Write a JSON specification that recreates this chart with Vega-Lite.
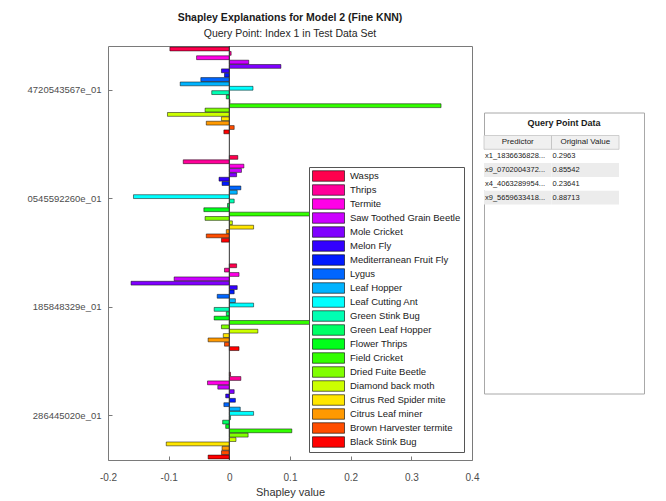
{
  "$schema": "https://vega.github.io/schema/vega-lite/v6.json",
  "padding": {"left": 26, "top": 12, "right": 5, "bottom": 5},
  "background": "white",
  "config": {"font": "Liberation Sans", "view": {"stroke": null}},
  "spacing": 12,
  "bounds": "flush",
  "center": true,
  "resolve": {"scale": {"color": "independent", "fill": "independent", "x": "independent", "y": "independent"}, "legend": {"color": "independent", "fill": "independent"}},
  "datasets": {
    "shap": [
      {"predictor": "4720543567e_01", "insect": "Wasps", "shap": -0.098},
      {"predictor": "4720543567e_01", "insect": "Thrips", "shap": 0.003},
      {"predictor": "4720543567e_01", "insect": "Termite", "shap": -0.054},
      {"predictor": "4720543567e_01", "insect": "Saw Toothed Grain Beetle", "shap": 0.032},
      {"predictor": "4720543567e_01", "insect": "Mole Cricket", "shap": 0.085},
      {"predictor": "4720543567e_01", "insect": "Melon Fly", "shap": -0.013},
      {"predictor": "4720543567e_01", "insect": "Mediterranean Fruit Fly", "shap": -0.008},
      {"predictor": "4720543567e_01", "insect": "Lygus", "shap": -0.047},
      {"predictor": "4720543567e_01", "insect": "Leaf Hopper", "shap": -0.081},
      {"predictor": "4720543567e_01", "insect": "Leaf Cutting Ant", "shap": 0.039},
      {"predictor": "4720543567e_01", "insect": "Green Stink Bug", "shap": -0.029},
      {"predictor": "4720543567e_01", "insect": "Green Leaf Hopper", "shap": -0.005},
      {"predictor": "4720543567e_01", "insect": "Flower Thrips", "shap": 0.001},
      {"predictor": "4720543567e_01", "insect": "Field Cricket", "shap": 0.349},
      {"predictor": "4720543567e_01", "insect": "Dried Fuite Beetle", "shap": -0.04},
      {"predictor": "4720543567e_01", "insect": "Diamond back moth", "shap": -0.102},
      {"predictor": "4720543567e_01", "insect": "Citrus Red Spider mite", "shap": -0.013},
      {"predictor": "4720543567e_01", "insect": "Citrus Leaf miner", "shap": -0.038},
      {"predictor": "4720543567e_01", "insect": "Brown Harvester termite", "shap": 0.008},
      {"predictor": "4720543567e_01", "insect": "Black Stink Bug", "shap": -0.009},
      {"predictor": "0545592260e_01", "insect": "Wasps", "shap": 0.014},
      {"predictor": "0545592260e_01", "insect": "Thrips", "shap": -0.076},
      {"predictor": "0545592260e_01", "insect": "Termite", "shap": 0.024},
      {"predictor": "0545592260e_01", "insect": "Saw Toothed Grain Beetle", "shap": 0.02},
      {"predictor": "0545592260e_01", "insect": "Mole Cricket", "shap": 0.012},
      {"predictor": "0545592260e_01", "insect": "Melon Fly", "shap": -0.017},
      {"predictor": "0545592260e_01", "insect": "Mediterranean Fruit Fly", "shap": -0.012},
      {"predictor": "0545592260e_01", "insect": "Lygus", "shap": 0.019},
      {"predictor": "0545592260e_01", "insect": "Leaf Hopper", "shap": 0.013},
      {"predictor": "0545592260e_01", "insect": "Leaf Cutting Ant", "shap": -0.158},
      {"predictor": "0545592260e_01", "insect": "Green Stink Bug", "shap": 0.008},
      {"predictor": "0545592260e_01", "insect": "Green Leaf Hopper", "shap": -0.003},
      {"predictor": "0545592260e_01", "insect": "Flower Thrips", "shap": -0.042},
      {"predictor": "0545592260e_01", "insect": "Field Cricket", "shap": 0.17},
      {"predictor": "0545592260e_01", "insect": "Dried Fuite Beetle", "shap": -0.04},
      {"predictor": "0545592260e_01", "insect": "Diamond back moth", "shap": 0.005},
      {"predictor": "0545592260e_01", "insect": "Citrus Red Spider mite", "shap": 0.04},
      {"predictor": "0545592260e_01", "insect": "Citrus Leaf miner", "shap": -0.005},
      {"predictor": "0545592260e_01", "insect": "Brown Harvester termite", "shap": -0.038},
      {"predictor": "0545592260e_01", "insect": "Black Stink Bug", "shap": -0.013},
      {"predictor": "185848329e_01", "insect": "Wasps", "shap": 0.012},
      {"predictor": "185848329e_01", "insect": "Thrips", "shap": -0.008},
      {"predictor": "185848329e_01", "insect": "Termite", "shap": 0.016},
      {"predictor": "185848329e_01", "insect": "Saw Toothed Grain Beetle", "shap": -0.091},
      {"predictor": "185848329e_01", "insect": "Mole Cricket", "shap": -0.162},
      {"predictor": "185848329e_01", "insect": "Melon Fly", "shap": 0.013},
      {"predictor": "185848329e_01", "insect": "Mediterranean Fruit Fly", "shap": 0.008},
      {"predictor": "185848329e_01", "insect": "Lygus", "shap": -0.02},
      {"predictor": "185848329e_01", "insect": "Leaf Hopper", "shap": 0.01},
      {"predictor": "185848329e_01", "insect": "Leaf Cutting Ant", "shap": 0.04},
      {"predictor": "185848329e_01", "insect": "Green Stink Bug", "shap": -0.025},
      {"predictor": "185848329e_01", "insect": "Green Leaf Hopper", "shap": -0.005},
      {"predictor": "185848329e_01", "insect": "Flower Thrips", "shap": -0.025},
      {"predictor": "185848329e_01", "insect": "Field Cricket", "shap": 0.15},
      {"predictor": "185848329e_01", "insect": "Dried Fuite Beetle", "shap": -0.013},
      {"predictor": "185848329e_01", "insect": "Diamond back moth", "shap": 0.047},
      {"predictor": "185848329e_01", "insect": "Citrus Red Spider mite", "shap": -0.01},
      {"predictor": "185848329e_01", "insect": "Citrus Leaf miner", "shap": -0.035},
      {"predictor": "185848329e_01", "insect": "Brown Harvester termite", "shap": -0.008},
      {"predictor": "185848329e_01", "insect": "Black Stink Bug", "shap": 0.016},
      {"predictor": "286445020e_01", "insect": "Wasps", "shap": 0.002},
      {"predictor": "286445020e_01", "insect": "Thrips", "shap": 0.019},
      {"predictor": "286445020e_01", "insect": "Termite", "shap": -0.036},
      {"predictor": "286445020e_01", "insect": "Saw Toothed Grain Beetle", "shap": -0.019},
      {"predictor": "286445020e_01", "insect": "Mole Cricket", "shap": 0.008},
      {"predictor": "286445020e_01", "insect": "Melon Fly", "shap": -0.006},
      {"predictor": "286445020e_01", "insect": "Mediterranean Fruit Fly", "shap": 0.01},
      {"predictor": "286445020e_01", "insect": "Lygus", "shap": -0.009},
      {"predictor": "286445020e_01", "insect": "Leaf Hopper", "shap": 0.018},
      {"predictor": "286445020e_01", "insect": "Leaf Cutting Ant", "shap": 0.04},
      {"predictor": "286445020e_01", "insect": "Green Stink Bug", "shap": 0.002},
      {"predictor": "286445020e_01", "insect": "Green Leaf Hopper", "shap": -0.011},
      {"predictor": "286445020e_01", "insect": "Flower Thrips", "shap": -0.006},
      {"predictor": "286445020e_01", "insect": "Field Cricket", "shap": 0.103},
      {"predictor": "286445020e_01", "insect": "Dried Fuite Beetle", "shap": 0.031},
      {"predictor": "286445020e_01", "insect": "Diamond back moth", "shap": 0.011},
      {"predictor": "286445020e_01", "insect": "Citrus Red Spider mite", "shap": -0.104},
      {"predictor": "286445020e_01", "insect": "Citrus Leaf miner", "shap": -0.012},
      {"predictor": "286445020e_01", "insect": "Brown Harvester termite", "shap": -0.013},
      {"predictor": "286445020e_01", "insect": "Black Stink Bug", "shap": -0.035}
    ],
    "cells": [
      {"row": "header", "col": "Predictor", "text": "Predictor"},
      {"row": "header", "col": "Original Value", "text": "Original Value"},
      {"row": "1", "col": "Predictor", "text": "x1_1836636828..."},
      {"row": "1", "col": "Original Value", "text": "0.2963"},
      {"row": "2", "col": "Predictor", "text": "x9_0702004372..."},
      {"row": "2", "col": "Original Value", "text": "0.85542"},
      {"row": "3", "col": "Predictor", "text": "x4_4063289954..."},
      {"row": "3", "col": "Original Value", "text": "0.23641"},
      {"row": "4", "col": "Predictor", "text": "x9_5659633418..."},
      {"row": "4", "col": "Original Value", "text": "0.88713"}
    ]
  },
  "hconcat": [
    {
      "width": 364,
      "height": 414,
      "title": {
        "text": "Shapley Explanations for Model 2 (Fine KNN)",
        "subtitle": "Query Point: Index 1 in Test Data Set",
        "fontSize": 10.5,
        "fontWeight": "bold",
        "color": "#1a1a1a",
        "subtitleFontSize": 10.5,
        "subtitleColor": "#262626",
        "subtitlePadding": 6,
        "offset": 6,
        "anchor": "middle",
        "frame": "group"
      },
      "view": {"stroke": "#7a7a7a", "strokeWidth": 1},
      "layer": [
        {
          "data": {"name": "shap"},
          "mark": {"type": "bar", "stroke": "black", "strokeWidth": 0.5},
          "encoding": {
            "y": {
              "field": "predictor", "type": "nominal", "sort": null,
              "scale": {"paddingInner": 0.2, "paddingOuter": 0.01},
              "axis": {"title": null, "labelFontSize": 9.5, "labelColor": "#4d4d4d", "tickSize": -4, "tickColor": "#7a7a7a", "labelPadding": 11, "domain": false}
            },
            "yOffset": {"field": "insect", "type": "nominal", "sort": null, "scale": {"paddingInner": 0.12}},
            "x": {
              "field": "shap", "type": "quantitative",
              "scale": {"domain": [-0.2, 0.4], "nice": false, "zero": false},
              "axis": {"title": "Shapley value", "titleFontSize": 11, "titleFontWeight": "normal", "titleColor": "#333333", "titlePadding": 4,
                "values": [-0.2, -0.1, 0, 0.1, 0.2, 0.3, 0.4], "labelExpr": "'' + datum.value", "labelFlush": false,
                "labelFontSize": 10, "labelColor": "#4d4d4d", "tickSize": -4, "tickColor": "#7a7a7a", "labelPadding": 16, "domain": false, "grid": false}
            },
            "color": {
              "field": "insect", "type": "nominal", "sort": null,
              "scale": {
                "domain": ["Wasps", "Thrips", "Termite", "Saw Toothed Grain Beetle", "Mole Cricket", "Melon Fly", "Mediterranean Fruit Fly", "Lygus", "Leaf Hopper", "Leaf Cutting Ant", "Green Stink Bug", "Green Leaf Hopper", "Flower Thrips", "Field Cricket", "Dried Fuite Beetle", "Diamond back moth", "Citrus Red Spider mite", "Citrus Leaf miner", "Brown Harvester termite", "Black Stink Bug"],
                "range": ["#ff004d", "#ff0099", "#ff00e6", "#cc00ff", "#8000ff", "#3300ff", "#001aff", "#0066ff", "#00b3ff", "#00ffff", "#00ffb3", "#00ff66", "#00ff1a", "#33ff00", "#80ff00", "#ccff00", "#ffe600", "#ff9900", "#ff4d00", "#ff0000"]
              },
              "legend": {
                "title": null, "orient": "bottom-right", "offset": 8,
                "symbolType": "M-3.2,-1.05H3.2V1.05H-3.2Z", "symbolSize": 100,
                "symbolStrokeColor": "#000000", "symbolStrokeWidth": 0.6, "symbolOpacity": 1,
                "symbolOffset": 10.5, "labelOffset": 16, "labelFontSize": 9.5, "labelColor": "#1a1a1a",
                "rowPadding": 1, "padding": 3.5, "strokeColor": "#555555", "fillColor": "white", "labelLimit": 0
              }
            }
          }
        },
        {
          "data": {"values": [{}]},
          "mark": {"type": "rule", "color": "#333333", "strokeWidth": 1},
          "encoding": {"x": {"datum": 0, "type": "quantitative"}}
        }
      ]
    },
    {
      "width": 160,
      "height": 281,
      "title": {"text": "Query Point Data", "fontSize": 9, "fontWeight": "bold", "offset": -15, "anchor": "middle", "frame": "group", "color": "#1a1a1a"},
      "view": {"stroke": "#a8a8a8", "fill": "white"},
      "data": {"name": "cells"},
      "encoding": {
        "x": {"field": "col", "type": "nominal", "sort": null,
          "scale": {"domain": ["Predictor", "Original Value"], "paddingInner": 0, "paddingOuter": 0.185, "align": 0}, "axis": null},
        "y": {"field": "row", "type": "nominal", "sort": null,
          "scale": {"domain": ["header", "1", "2", "3", "4"], "range": [23, 92], "paddingInner": 0, "paddingOuter": 0}, "axis": null}
      },
      "layer": [
        {
          "mark": {"type": "rect"},
          "encoding": {"fill": {"field": "row", "type": "nominal", "scale": {"domain": ["header", "1", "2", "3", "4"], "range": ["#f0f0f0", "#ffffff", "#ececec", "#ffffff", "#ececec"]}, "legend": null}}
        },
        {
          "transform": [{"filter": {"field": "row", "equal": "header"}}],
          "mark": {"type": "rect", "fill": null, "stroke": "#c4c4c4", "strokeWidth": 0.8}
        },
        {
          "transform": [{"filter": {"field": "row", "equal": "header"}}],
          "mark": {"type": "text", "fontSize": 8, "color": "#222222"},
          "encoding": {"text": {"field": "text"}}
        },
        {
          "transform": [{"filter": {"not": {"field": "row", "equal": "header"}}}],
          "mark": {"type": "text", "fontSize": 7.5, "align": "left", "dx": 1, "color": "#222222"},
          "encoding": {"text": {"field": "text"}, "x": {"field": "col", "type": "nominal", "sort": null, "bandPosition": 0}}
        }
      ]
    }
  ]
}
